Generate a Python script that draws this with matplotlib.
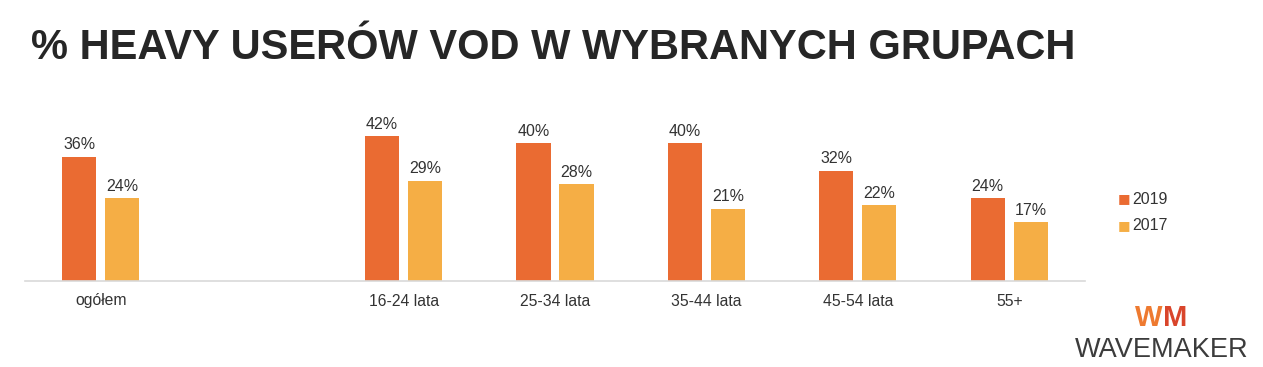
import numpy as np
import matplotlib.pyplot as plt

# dane
kategorie = ['ogółem', '', '16-24 lata', '25-34 lata', '35-44 lata', '45-54 lata', '55+']
v2019 = [36, None, 42, 40, 40, 32, 24]
v2017 = [24, None, 29, 28, 21, 22, 17]
lata = ['2019', '2017']

kolory = ['#EA6B32', '#F5AE45']
tekst = '#333333'

plt.rcParams['font.family'] = ['Liberation Sans', 'DejaVu Sans']

fig = plt.figure(figsize=(12.63, 3.67), dpi=100)
ax = fig.add_axes([25 / 1263, 86 / 367, 1060 / 1263, 165.6 / 367])

x = np.arange(len(kategorie))
szer = 0.225
przes = 0.142

for i, (a, b) in enumerate(zip(v2019, v2017)):
    if a is None:
        continue
    ax.bar(x[i] - przes, a, szer, color=kolory[0])
    ax.bar(x[i] + przes, b, szer, color=kolory[1])
    ax.text(x[i] - przes, a + 1.3, f'{a}%', ha='center', va='bottom', fontsize=11.5, color=tekst)
    ax.text(x[i] + przes, b + 1.3, f'{b}%', ha='center', va='bottom', fontsize=11.5, color=tekst)

ax.set_xlim(-0.5, len(kategorie) - 0.5)
ax.set_ylim(0, 48)
ax.set_xticks(x)
ax.set_xticklabels(kategorie, fontsize=11.3, color=tekst)
ax.tick_params(axis='x', length=0, pad=9)
ax.set_yticks([])
for s in ['top', 'right', 'left']:
    ax.spines[s].set_visible(False)
ax.spines['bottom'].set_color('#D9D9D9')
ax.spines['bottom'].set_linewidth(1.2)

# legenda
for j, (rok, k) in enumerate(zip(lata, kolory)):
    yy = 1 - (199 + 27 * j) / 367
    fig.text(1118 / 1263, yy, '■', color=k, fontsize=9.5, ha='left', va='center',
             family=['DejaVu Sans'])
    fig.text(1132 / 1263, yy, rok, color=tekst, fontsize=11.5, ha='left', va='center')

# tytul
fig.text(31 / 1263, 1 - 59 / 367, '% HEAVY USERÓW VOD W WYBRANYCH GRUPACH',
         fontsize=30, fontweight='bold', color='#262626', ha='left', va='baseline')

# logo
fig.text(1149 / 1263, 1 - 326 / 367, 'W', color='#EE7A30', fontsize=21, fontweight='bold',
         ha='center', va='baseline')
fig.text(1175 / 1263, 1 - 326 / 367, 'M', color='#D9452B', fontsize=21, fontweight='bold',
         ha='center', va='baseline')
fig.text(1162 / 1263, 1 - 357 / 367, 'WAVEMAKER', color='#3C3C3C', fontsize=19.5,
         ha='center', va='baseline')

fig.savefig('out.png', dpi=100, facecolor='white')
